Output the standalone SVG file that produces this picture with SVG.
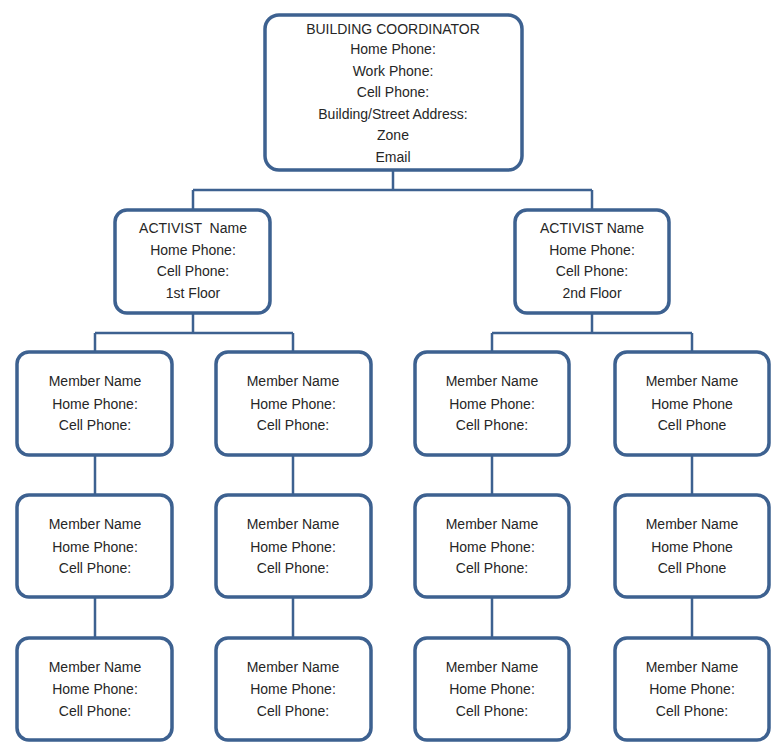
<svg xmlns="http://www.w3.org/2000/svg" width="774" height="744" viewBox="0 0 774 744">
<style>
.box{fill:#ffffff;stroke:#3d6190;stroke-width:3.5}
.ln{fill:none;stroke:#3d6190;stroke-width:2.5}
text{font-family:"Liberation Sans",Arial,sans-serif;font-size:14px;fill:#262626;text-anchor:middle}
</style>
<rect width="774" height="744" fill="#ffffff"/>
<g id="connectors">
<path class="ln" d="M393 170 V190 M193 190 H592 M193 190 V210 M592 190 V210"/>
<path class="ln" d="M193 313 V333 M95 333 H293 M95 333 V352 M293 333 V352"/>
<path class="ln" d="M592 313 V333 M492 333 H692 M492 333 V352 M692 333 V352"/>
<path class="ln" d="M95 455 V495 M95 597 V638 M293 455 V495 M293 597 V638 M492 455 V495 M492 597 V638 M692 455 V495 M692 597 V638"/>
</g>
<g id="coordinator">
<rect class="box" x="265" y="15" width="257" height="155" rx="14"/>
<text x="393" y="34">BUILDING COORDINATOR</text>
<text x="393" y="54">Home Phone:</text>
<text x="393" y="76">Work Phone:</text>
<text x="393" y="97">Cell Phone:</text>
<text x="393" y="119">Building/Street Address:</text>
<text x="393" y="140">Zone</text>
<text x="393" y="162">Email</text>
</g>
<g id="activist1">
<rect class="box" x="115" y="210" width="155" height="103" rx="12"/>
<text x="193" y="233" xml:space="preserve">ACTIVIST  Name</text>
<text x="193" y="255">Home Phone:</text>
<text x="193" y="276">Cell Phone:</text>
<text x="193" y="298">1st Floor</text>
</g>
<g id="activist2">
<rect class="box" x="515" y="210" width="154" height="103" rx="12"/>
<text x="592" y="233">ACTIVIST Name</text>
<text x="592" y="255">Home Phone:</text>
<text x="592" y="276">Cell Phone:</text>
<text x="592" y="298">2nd Floor</text>
</g>
<g id="m11"><rect class="box" x="17" y="352" width="155" height="103" rx="12"/><text x="95" y="386">Member Name</text><text x="95" y="409">Home Phone:</text><text x="95" y="430">Cell Phone:</text></g>
<g id="m12"><rect class="box" x="216" y="352" width="155" height="103" rx="12"/><text x="293" y="386">Member Name</text><text x="293" y="409">Home Phone:</text><text x="293" y="430">Cell Phone:</text></g>
<g id="m13"><rect class="box" x="415" y="352" width="154" height="103" rx="12"/><text x="492" y="386">Member Name</text><text x="492" y="409">Home Phone:</text><text x="492" y="430">Cell Phone:</text></g>
<g id="m14"><rect class="box" x="615" y="352" width="154" height="103" rx="12"/><text x="692" y="386">Member Name</text><text x="692" y="409">Home Phone</text><text x="692" y="430">Cell Phone</text></g>
<g id="m21"><rect class="box" x="17" y="495" width="155" height="102" rx="12"/><text x="95" y="529">Member Name</text><text x="95" y="552">Home Phone:</text><text x="95" y="573">Cell Phone:</text></g>
<g id="m22"><rect class="box" x="216" y="495" width="155" height="102" rx="12"/><text x="293" y="529">Member Name</text><text x="293" y="552">Home Phone:</text><text x="293" y="573">Cell Phone:</text></g>
<g id="m23"><rect class="box" x="415" y="495" width="154" height="102" rx="12"/><text x="492" y="529">Member Name</text><text x="492" y="552">Home Phone:</text><text x="492" y="573">Cell Phone:</text></g>
<g id="m24"><rect class="box" x="615" y="495" width="154" height="102" rx="12"/><text x="692" y="529">Member Name</text><text x="692" y="552">Home Phone</text><text x="692" y="573">Cell Phone</text></g>
<g id="m31"><rect class="box" x="17" y="638" width="155" height="102" rx="12"/><text x="95" y="672">Member Name</text><text x="95" y="694">Home Phone:</text><text x="95" y="716">Cell Phone:</text></g>
<g id="m32"><rect class="box" x="216" y="638" width="155" height="102" rx="12"/><text x="293" y="672">Member Name</text><text x="293" y="694">Home Phone:</text><text x="293" y="716">Cell Phone:</text></g>
<g id="m33"><rect class="box" x="415" y="638" width="154" height="102" rx="12"/><text x="492" y="672">Member Name</text><text x="492" y="694">Home Phone:</text><text x="492" y="716">Cell Phone:</text></g>
<g id="m34"><rect class="box" x="615" y="638" width="154" height="102" rx="12"/><text x="692" y="672">Member Name</text><text x="692" y="694">Home Phone:</text><text x="692" y="716">Cell Phone:</text></g>
</svg>
